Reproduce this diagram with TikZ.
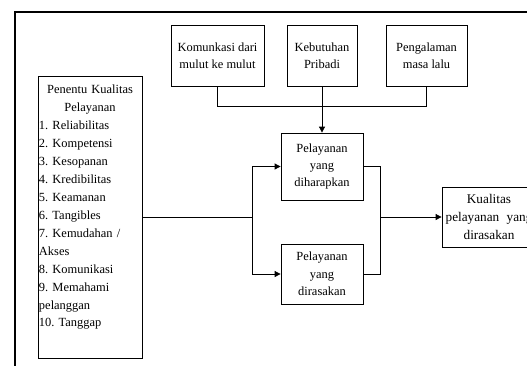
\documentclass[tikz,border=0pt]{standalone}
\usepackage{fontspec}
\setmainfont{Liberation Serif}
\usetikzlibrary{arrows.meta}
\begin{document}
\frenchspacing
\begin{tikzpicture}[x=1bp,y=-1bp,
  box/.style={draw, line width=0.8bp, inner sep=0pt, align=center, font=\fontsize{12.5}{17.5}\selectfont},
  conn/.style={line width=0.8bp},
  arr/.style={conn,-{Triangle[length=6bp,width=6bp]}}]
\useasboundingbox (0,0) rectangle (527,365);
\draw[line width=2.5bp] (560,12) -- (15,12) -- (15,390);
\node[box, minimum width=93bp, minimum height=61bp] (c1) at (217.5,55.5) {Komunkasi dari\\mulut ke mulut};
\node[box, minimum width=70bp, minimum height=61bp] (c2) at (322,55.5) {Kebutuhan\\Pribadi};
\node[box, minimum width=81bp, minimum height=61bp] (c3) at (426.5,55.5) {Pengalaman\\masa lalu};
\node[box, minimum width=82bp, minimum height=67bp] (h) at (322,166.5) {Pelayanan\\yang\\diharapkan};
\node[box, minimum width=82bp, minimum height=60bp] (r) at (322,274) {Pelayanan\\yang\\dirasakan};
\node[box, minimum width=94bp, minimum height=60bp, font=\fontsize{13.3}{18}\selectfont] (k) at (489,217) {Kualitas\\pelayanan\hspace{0.3em} yang\\dirasakan};
\node[draw, line width=0.8bp, minimum width=104bp, minimum height=282bp, inner sep=0pt] (L) at (90,217) {};
\node[anchor=north west, inner sep=0pt, text width=102bp, font=\fontsize{12.5}{18}\selectfont] (Lt) at (38.8,85)
 {\centering Penentu Kualitas\\ Pelayanan\par
  \raggedright 1. Reliabilitas\\ 2. Kompetensi\\ 3. Kesopanan\\ 4. Kredibilitas\\ 5. Keamanan\\ 6. Tangibles\\ 7. Kemudahan /\\ Akses\\ 8. Komunikasi\\ 9. Memahami\\ pelanggan\\ 10. Tanggap\par};
\coordinate (j1) at (252,217);
\coordinate (j2) at (380,217);
\draw[conn] (c1.south) -- ++(0,20) -| (c3.south);
\draw[arr] (c2.south) -- (h.north);
\draw[conn] (L.east) -- (j1);
\draw[arr] (j1) |- (h.west);
\draw[arr] (j1) |- (r.west);
\draw[conn] (h.east) -| (j2);
\draw[conn] (r.east) -| (j2);
\draw[arr] (j2) -- (k.west);
\end{tikzpicture}
\end{document}
